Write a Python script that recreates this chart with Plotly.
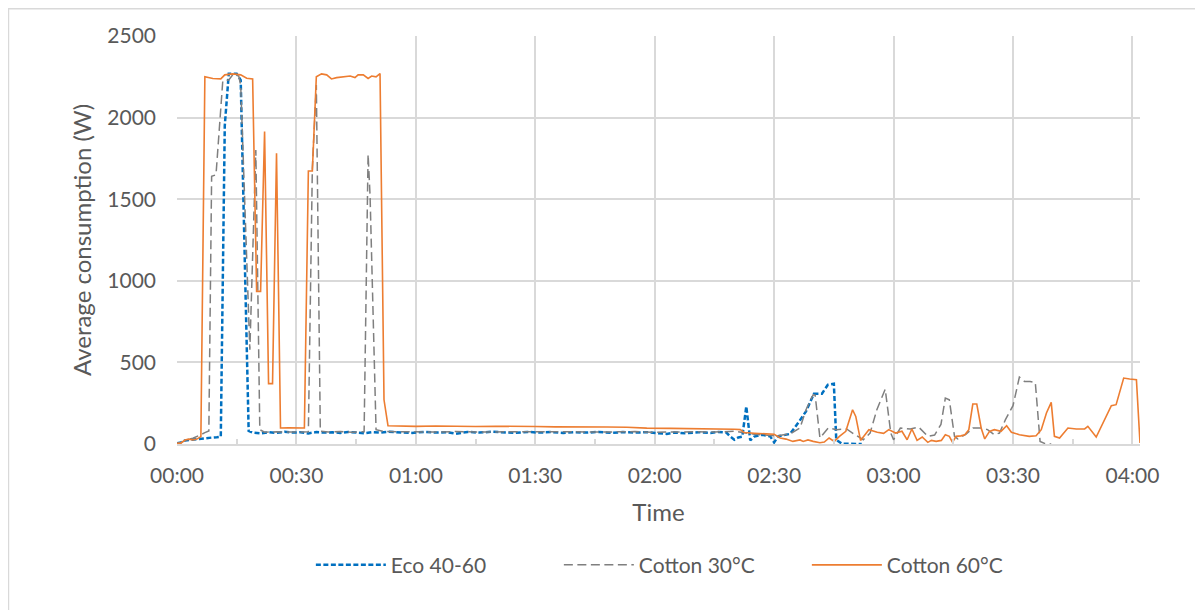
import pandas as pd
import plotly.graph_objects as go

# minutes since start of programme / average power in W
ECO_T = [0, 1, 2, 3, 4, 5, 6, 7, 8, 9, 10, 11, 12, 13, 14, 15, 16, 17, 18,
         19, 21, 23, 25, 27, 29, 31, 33, 35, 37, 39, 41, 43, 45, 47, 49, 51, 53,
         56, 59, 62, 65, 68, 70, 73, 76, 79, 82, 85, 88, 91, 94, 97, 100, 103,
         106, 109, 112, 115, 118, 121, 123, 125, 128, 131, 134, 136, 138, 139,
         140, 141, 142, 143, 144, 145, 146, 147, 149, 150, 151, 153, 154, 156,
         158, 160, 162, 163.5, 165, 165.6, 167, 172]
ECO_W = [5, 10, 22, 25, 25, 28, 35, 38, 40, 40, 42, 45, 1950, 2268, 2268, 2268, 2230, 1200, 80,
         70, 65, 72, 68, 75, 70, 72, 65, 73, 70, 72, 68, 74, 70, 66, 73, 70, 75,
         72, 68, 74, 70, 72, 63, 74, 70, 75, 72, 68, 74, 70, 73, 68, 72, 70,
         74, 68, 73, 70, 72, 65, 62, 70, 66, 72, 68, 74, 70, 45,
         26, 40, 45, 230, 22, 45, 50, 57, 47, 10, 47, 57, 62, 128,
         200, 308, 308, 363, 369, 26, 2, 0]

COTTON30_T = [0, 1, 2, 3, 4, 5, 6, 7, 8, 8.7, 9.8, 11.5, 13, 14, 15.5, 16, 17.2, 18.3,
              19.8, 20.8, 22, 25, 28, 31, 33, 34, 35, 36, 38, 41, 44, 47, 48, 48.5,
              50, 52, 55, 60, 65, 70, 75, 80, 85, 90, 95, 100, 105, 110, 115, 120,
              125, 130, 135, 140, 145, 150, 152, 154, 156.5, 158, 159.8, 160.3, 161.5,
              163.6, 165.7, 168.2, 170.3, 172.4, 174.1, 175.8, 177.9, 179.3, 180,
              181.7, 184.2, 186.3, 188.6, 190.3, 191.9, 193, 194, 195.3, 196.1, 198.2,
              199.9, 202, 203.6, 205.3, 206.6, 208.1, 210, 211.6, 212.9, 214.3, 215.6,
              216.8, 218.1, 219.6]
COTTON30_W = [5, 10, 20, 30, 35, 45, 57, 70, 80, 1640, 1650, 2225, 2230, 2262, 2255, 2200, 1300, 577,
              1802, 88, 72, 75, 73, 76, 75, 1690, 2200, 78, 74, 76, 72, 75, 1775, 1520,
              88, 76, 74, 75, 73, 76, 74, 75, 72, 76, 74, 75, 73, 74, 76, 72,
              74, 75, 73, 78, 60, 50, 55, 62, 98, 210, 302, 300, 37,
              98, 88, 92, 57, 26, 67, 210, 336, 67, 26,
              98, 92, 104, 47, 55, 120, 281, 271, 47, 31, 60,
              98, 98, 88, 57, 67, 149, 235, 410, 383, 383, 377,
              16, 2, 0]

COTTON60_T = [0, 1, 2, 3, 4, 5, 6, 7, 9, 11, 12, 14, 16, 17.5, 19, 20, 21, 22, 23, 24, 25, 26,
              28, 30, 32, 33, 34, 35, 36.3, 37.6, 38.8, 40.1, 41.8, 43.5, 44.7, 45.5, 46.8,
              48, 48.9, 50, 51, 52, 53, 56, 60, 65, 70, 75, 80, 85, 90, 95, 100, 103, 108,
              113, 118, 124, 130, 135, 140, 141.5, 142.5, 145, 150, 151.5, 153, 154.7,
              156.5, 157.3, 158.5, 159.8, 161.5, 162.6, 163.8, 165.1, 166.4, 168, 169.7,
              170.5, 171.7, 173.8, 175.9, 177.5, 178.8, 180.5, 182.1, 183.4, 184.6, 185.9,
              187.2, 188.6, 189.5, 190.7, 192, 193, 194, 194.8, 195.7, 196.9, 197.9, 198.9,
              199.9, 200.9, 202, 202.9, 204.1, 205.3, 207, 208.4, 209.6, 211.6, 214.1,
              215.8, 217.1, 218.4, 219.6, 220.4, 221.7, 223.8, 225.9, 228, 228.8, 230.9,
              232.6, 234.7, 235.9, 237.8, 239.3, 241, 241.9]
COTTON60_W = [5, 5, 25, 30, 25, 30, 45, 2250, 2240, 2237, 2262, 2268, 2262, 2241, 2237, 935, 935, 1915, 370, 370, 1782, 98,
              100, 98, 98, 1673, 1673, 2250, 2268, 2262, 2237, 2245, 2250, 2255, 2245, 2262, 2262,
              2240, 2255, 2250, 2270, 271, 112, 110, 108, 110, 108, 107, 109, 106, 107, 105, 106, 104, 104,
              103, 97, 96, 95, 92, 90, 88, 70, 66, 60, 37, 30, 16,
              25, 16, 25, 16, 8, 12, 37, 16, 47, 78, 210,
              169, 22, 88, 72, 65, 88, 67, 78, 26, 92, 22,
              43, 10, 22, 16, 22, 57, 47, 10, 47, 50, 57, 88,
              245, 245, 98, 31, 77, 88, 78, 112, 72, 57, 47,
              50, 88, 190, 255, 47, 37, 98, 92, 92, 108, 43,
              128, 235, 241, 404, 398, 394, 6]

X_END = 241.9
START = pd.Timestamp('2000-01-01 00:00')


def to_time(minutes):
    return START + pd.to_timedelta(minutes, unit='m')


FONT = 'Lato, Calibri, Arial, sans-serif'
TEXT = '#595959'
GRID = '#D9D9D9'

traces = [
    go.Scatter(
        name='Eco 40-60',
        x=to_time(ECO_T),
        y=ECO_W,
        mode='lines',
        line=dict(color='#0070C0', width=2.5, dash='5px,2.5px'),
        ),
    go.Scatter(
        name='Cotton 30°C',
        x=to_time(COTTON30_T),
        y=COTTON30_W,
        mode='lines',
        line=dict(color='#7F7F7F', width=1.5, dash='9px,4.5px'),
        ),
    go.Scatter(
        name='Cotton 60°C',
        x=to_time(COTTON60_T),
        y=COTTON60_W,
        mode='lines',
        line=dict(color='#ED7D31', width=1.6),
        ),
    ]

# the page body adds an 8px offset, margins are chosen to compensate
layout = go.Layout(
    width=1203,
    height=610,
    margin=dict(l=169, r=71, t=28, b=174),
    paper_bgcolor='white',
    plot_bgcolor='white',
    font=dict(family=FONT, size=21, color=TEXT),
    xaxis=dict(
        type='date',
        range=[to_time(0), to_time(X_END)],
        tickformat='%H:%M',
        tick0=to_time(0),
        dtick=30 * 60 * 1000,
        showgrid=True,
        gridcolor=GRID,
        gridwidth=1.5,
        showline=True,
        linecolor=GRID,
        linewidth=1.5,
        ticks='',
        ticklabelstandoff=12,
        minor=dict(
            dtick=15 * 60 * 1000,
            tick0=to_time(0),
            ticks='inside',
            ticklen=5,
            tickcolor=GRID,
            tickwidth=1.5,
            showgrid=False,
            ),
        title=dict(text='Time', font=dict(size=24, color=TEXT), standoff=18),
        zeroline=False,
        ),
    yaxis=dict(
        range=[0, 2500],
        dtick=500,
        showgrid=True,
        gridcolor=GRID,
        gridwidth=1.5,
        showline=False,
        zeroline=False,
        ticks='',
        ticklabelstandoff=20,
        title=dict(text='Average consumption (W)', font=dict(size=24, color=TEXT), standoff=8),
        ),
    legend=dict(
        orientation='h',
        xanchor='left',
        x=0.139,
        yanchor='middle',
        y=-0.297,
        entrywidth=163,
        itemwidth=70,
        font=dict(size=21, color=TEXT),
        ),
    shapes=[
        dict(type='rect', xref='paper', yref='paper',
             x0=-0.175, x1=1.08, y0=-0.45, y1=1.067,
             line=dict(color=GRID, width=1.5), layer='below'),
        ],
    )

fig = go.Figure(data=traces, layout=layout)
fig.write_html('out.html')
